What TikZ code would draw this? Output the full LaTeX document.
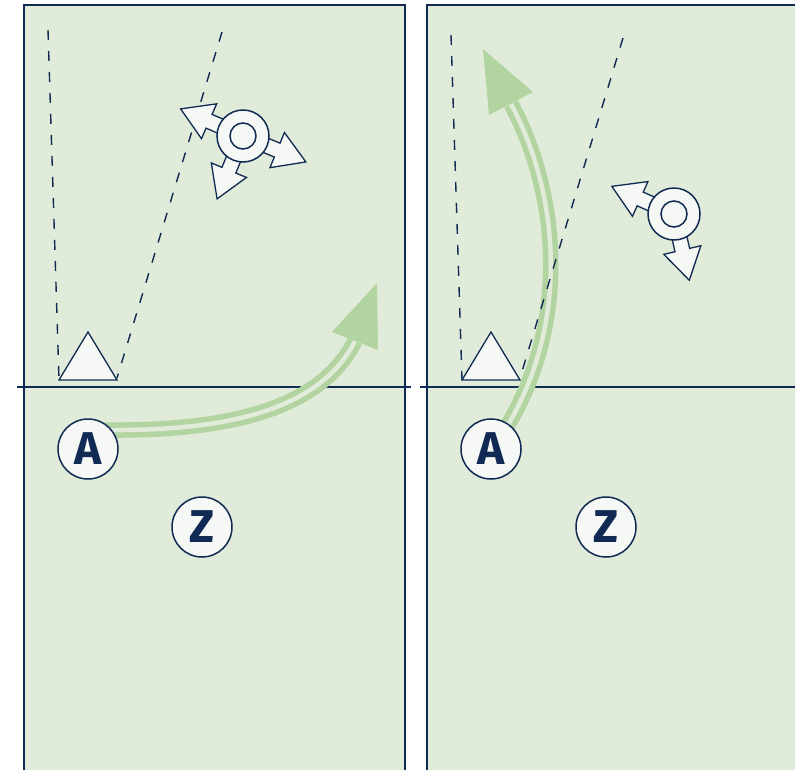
\documentclass[tikz,border=0pt]{standalone}
\usepackage{fontspec}
\setsansfont{Fira Sans}
\usepackage{xcolor}
\usepackage{tikz}
\usetikzlibrary{positioning,calc}
\definecolor{pitch}{RGB}{225,235,218}
\definecolor{navy}{RGB}{16,42,84}
\definecolor{runline}{RGB}{178,212,160}
\definecolor{chalk}{RGB}{246,248,245}
\newcommand{\blockarrow}[2]{%
  \draw[block,shift={(#1)},rotate=#2] (18,-7.5) -- (37,-7.5) -- (37,-19) -- (68,0)
    -- (37,19) -- (37,7.5) -- (18,7.5) -- cycle;}

\begin{document}
\begin{tikzpicture}[x=1pt,y=-1pt,
    edge/.style={navy,line width=1.5pt},
    sight/.style={navy,line width=1.4pt,dash pattern=on 10pt off 11pt},
    cone/.style={draw=navy,fill=chalk,line width=1.3pt},
    letter/.style={circle,draw=navy,fill=chalk,line width=1.5pt,minimum size=60pt,
        inner sep=0pt,text=navy,font=\sffamily\bfseries\fontsize{46}{46}\selectfont},
    player/.style={circle,draw=navy,fill=chalk,line width=1.5pt,minimum size=52pt,inner sep=0pt},
    block/.style={draw=navy,fill=chalk,line width=1.3pt},
    run/.style={runline,line width=5.5pt,double=pitch,double distance=4.5pt},
    runhead/.style={fill=runline}
]
\useasboundingbox (0,0) rectangle (795,769);
\clip (0,0) rectangle (795,769);

\foreach \dx/\pn in {0/L, 403/R} {
    \draw[edge,fill=pitch] (24+\dx,5) rectangle (405+\dx,790);
    \draw[navy,line width=2.2pt] (17+\dx,387) -- (411+\dx,387);
    \coordinate (T\pn) at (88+\dx,380);
}

\coordinate (AcL) at (88,449);
\coordinate (AcR) at (491,449);

% runs
\coordinate (runL) at (355,341);
\draw[run] ($(AcL)+(0,-19)$) -- (110,430) .. controls (250,431) and (325,400) .. (runL);
\fill[runhead] (377,283) -- (332,332) -- (378,350) -- cycle;

\coordinate (runR) at (511,104);
\draw[run] ($(AcR)+(8,-10)$) .. controls (572,330) and (560,195) .. (runR);
\fill[runhead] (483,49) -- (489,115) -- (533,92) -- cycle;

% sight lines
\draw[sight] (48,30) -- (59,380);
\draw[sight] (222,32) -- (117,378);
\draw[sight] (451,35) -- (462,380);
\draw[sight] (623,38) -- (520,378);

\foreach \pn in {L,R} {
    \draw[cone] (T\pn) ++(-29,0) -- ++(58,0) -- ++(-29,-48) -- cycle;
}

\node[letter] (AL) at (AcL) {A};
\node[letter] (ZL) at (202,527) {Z};
\node[letter] (AR) at (AcR) {A};
\node[letter] (ZR) at (606,527) {Z};

% players
\coordinate (PL) at (243,136);
\blockarrow{PL}{156.5}
\blockarrow{PL}{-22.4}
\blockarrow{PL}{247.6}
\node[player] (PLring) at (PL) {};
\draw[edge] (PL) circle (13);

\coordinate (PR) at (674,214);
\blockarrow{PR}{156}
\blockarrow{PR}{-77}
\node[player] (PRring) at (PR) {};
\draw[edge] (PR) circle (13);

\end{tikzpicture}
\end{document}
